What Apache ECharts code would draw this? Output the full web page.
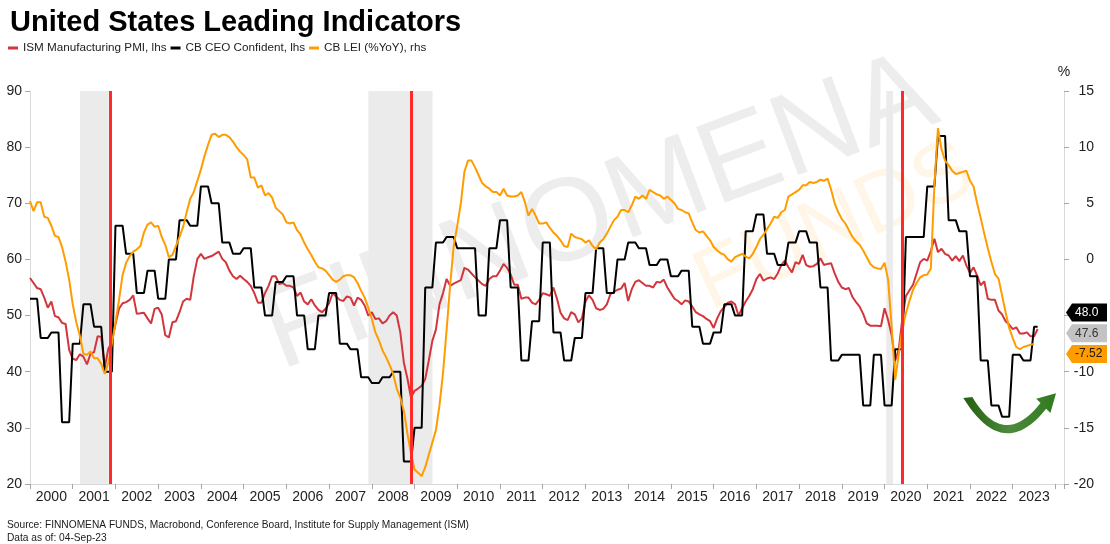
<!DOCTYPE html>
<html>
<head>
<meta charset="utf-8">
<script src="https://cdn.jsdelivr.net/npm/echarts@6/dist/echarts.min.js"></script>
<style>
html,body{margin:0;padding:0;background:#fff;}
#chart{width:1110px;height:544px;}
</style>
</head>
<body>
<div id="chart"></div>
<script>
// ---------------- DATA ----------------
const startYear = 2000;              // first month = Jan 2000, monthly data
const axisEndYear = 2024.2;          // x axis extends a little past 2024

// ISM Manufacturing PMI (monthly, Jan 2000 - Aug 2023), lhs
const ismPMI = [
  56.7, 55.8, 54.9, 54.7, 53.2, 51.4, 52.5, 49.9, 49.7, 48.7, 48.5, 43.9,
  42.3, 42.1, 43.1, 42.7, 41.3, 43.2, 43.5, 46.3, 46.2, 40.8, 44.1, 45.3,
  48.5, 51.2, 52.2, 52.4, 52.8, 53.6, 50.3, 50.4, 50.5, 49.5, 48.6, 51.2,
  51.4, 50.2, 46.5, 46.1, 48.8, 49.0, 50.6, 52.5, 53.0, 52.8, 57.0, 60.1,
  61.0, 60.1, 60.4, 60.6, 61.0, 61.4, 60.1, 59.5, 58.0, 57.0, 56.5, 57.1,
  56.5, 56.0, 55.3, 54.0, 52.3, 52.3, 54.0, 55.3, 57.0, 57.0, 55.6, 55.8,
  55.3, 55.3, 55.0, 53.5, 54.1, 52.5, 52.0, 52.9, 51.8, 51.0, 50.6, 51.2,
  52.2, 54.0, 53.4, 52.8, 52.6, 53.4, 53.2, 51.8, 53.2, 52.8, 51.8, 50.0,
  50.6, 49.4, 49.5, 48.6, 49.0, 50.0, 50.6, 50.0, 47.0, 41.6, 38.8, 35.4,
  36.6, 37.0, 37.5, 38.7, 42.0, 45.5, 47.5, 52.0, 54.0, 56.5, 55.3, 55.7,
  56.0, 56.3, 58.5, 58.2, 57.5, 56.8, 56.2, 55.6, 55.3, 56.5, 57.0, 57.0,
  58.0, 59.2, 58.5, 57.3, 55.5, 55.5, 53.0, 53.2, 53.2, 52.3, 52.0, 52.8,
  54.0, 53.8, 53.5, 55.0, 53.0, 50.5, 49.5, 49.2, 50.6, 50.2, 48.8, 49.5,
  52.5, 53.6, 52.8, 51.3, 51.0, 51.2, 52.0, 53.8, 54.2, 54.6, 54.8, 55.8,
  52.6, 54.7, 56.0, 56.3, 55.8, 55.3, 55.3, 55.0, 56.0, 55.9, 56.4, 55.0,
  54.0, 53.0, 52.6, 52.0, 52.7, 52.5, 51.6, 50.6, 50.2, 49.9, 49.4, 49.0,
  47.8, 49.5, 50.8, 51.5, 52.3, 52.5, 52.0, 50.0, 51.3, 52.5, 53.5, 54.7,
  56.5, 57.4, 56.2, 56.6, 56.8, 56.5, 57.5, 59.0, 59.8, 58.6, 57.7, 59.5,
  59.2, 60.8, 59.0, 58.7, 58.8, 59.2, 60.2, 59.0, 59.2, 59.3, 57.5, 56.0,
  55.0, 54.7, 54.9, 53.3, 52.4, 51.6, 50.3, 48.6, 48.2, 48.2, 48.2, 48.1,
  51.3, 49.2, 46.5, 42.0, 44.0, 49.5, 53.5, 54.5, 55.5, 57.5, 59.5, 60.1,
  59.8, 61.5, 63.7, 61.3, 61.9, 61.0, 60.7, 59.8, 60.6, 59.7, 60.7, 58.9,
  57.6, 58.6, 57.1, 55.4, 56.1, 53.0, 52.8, 52.8, 50.9, 50.2, 49.0, 48.4,
  47.6, 47.9, 46.8, 46.8, 47.0, 46.3, 46.3, 47.6
];

// CB CEO Confidence (quarterly, 2000Q1 - 2023Q3), lhs
const ceoConfidence = [
  53, 46, 47, 31,
  45, 52, 48, 40,
  66, 61, 54, 58,
  53, 60, 67, 66,
  73, 70, 63, 61,
  62, 55, 50, 56,
  57, 50, 44, 50,
  54, 45, 44, 39,
  38, 39, 40, 24,
  30, 55, 63, 64,
  62, 62, 50, 62,
  67, 55, 42, 49,
  63, 47, 42, 46,
  54, 62, 54, 60,
  63, 62, 59, 60,
  57, 58, 48, 45,
  47, 52, 50, 65,
  68, 61, 59, 63,
  65, 63, 55, 42,
  43, 43, 34, 43,
  34, 44, 64, 64,
  73, 82, 67, 65,
  57, 42, 34, 32,
  43, 42, 48
];

// CB LEI %YoY (monthly, Jan 2000 - Jul 2023), rhs
const leiYoY = [
  5.2, 4.3, 5.1, 5.1, 3.8, 3.7, 3.0, 2.1, 2.0, 1.1, -0.2, -1.8,
  -4.0, -5.6, -6.8, -8.4, -8.5, -8.2, -8.8, -8.8, -9.3, -10.2, -9.2, -7.5,
  -5.6, -3.6, -1.4, -0.3, 0.3, 0.7, 0.9, 1.2, 2.4, 3.1, 3.3, 2.9,
  3.0, 2.0, 1.3, 0.2, 0.4, 1.2, 2.0, 2.9, 4.2, 5.4, 6.0, 7.0,
  8.0, 9.2, 10.2, 11.1, 11.2, 10.9, 11.1, 11.1, 10.9, 10.5, 10.0, 9.6,
  9.3, 8.9, 7.3, 7.3, 6.4, 6.6, 5.7, 5.9, 5.5, 4.6, 4.3, 4.0,
  3.3, 3.2, 3.3, 2.6, 2.2, 1.5, 0.9, 0.4, -0.2, -0.7, -0.8, -1.0,
  -1.4, -1.8, -2.0, -1.8, -1.5, -1.4, -1.4, -1.6, -2.1, -2.8, -3.4, -4.3,
  -5.3, -6.5, -7.2, -8.1, -8.7, -9.4, -10.2, -11.5, -12.3, -13.5, -15.5, -17.3,
  -18.7, -19.0, -19.3, -18.5, -17.4, -16.3, -15.2, -13.0, -10.1, -6.3, -2.3, 1.2,
  3.0, 5.0, 7.8, 8.8, 8.8, 8.2, 7.5, 6.8, 6.5, 6.3, 6.0, 6.0,
  5.7, 6.3, 5.7, 5.6, 5.6, 5.7, 6.0, 5.1, 3.9, 4.5, 3.9, 3.2,
  3.2, 3.3, 2.8, 2.4, 2.1, 1.7, 1.2, 1.1, 2.3, 2.0, 1.9, 1.8,
  1.5, 1.7, 1.2, 0.9, 1.5, 1.8, 2.3, 2.9, 3.5, 3.8, 4.4, 4.4,
  4.2, 4.8, 5.6, 5.4, 5.7, 5.4, 6.2, 6.0, 5.8, 5.7, 5.4, 5.6,
  5.3, 5.0, 4.5, 4.4, 4.2, 4.1, 3.3, 2.6, 2.4, 2.5, 2.1, 1.7,
  1.1, 0.8, 0.55, 0.4, 0.0, -0.2, 0.2, 0.35, 0.5, 0.25, 0.1, 0.5,
  1.1, 1.8, 2.2, 2.7, 3.2, 3.8, 3.7, 4.2, 4.4, 5.6, 5.8, 6.0,
  6.2, 6.6, 6.6, 6.9, 6.8, 6.9, 7.1, 7.0, 7.2, 6.2, 5.0, 4.2,
  3.6, 3.2, 2.6, 2.0, 1.6, 1.3, 0.8, 0.2, -0.4, -0.7, -0.8, -0.85,
  -0.3, -1.8, -6.0, -10.7, -8.4, -6.2, -4.8, -3.7, -2.7, -2.1, -1.6, -1.4,
  -1.35, -0.8, 6.6, 11.7, 9.8, 8.8, 8.4, 7.9, 7.6, 7.7, 7.8, 7.9,
  7.0, 6.5, 5.0, 3.7, 2.3, 1.0, -0.2, -1.3, -1.7, -3.2, -4.7, -6.1,
  -7.0, -7.8, -8.0, -7.8, -7.7, -7.6, -7.52
];

// Recession periods (decimal years) and red marker lines
const recessions = [[2001.17, 2001.84], [2007.92, 2009.42], [2020.04, 2020.20]];
const markerLines = [2001.87, 2008.93, 2020.42];

const seriesNames = ['ISM Manufacturing PMI, lhs', 'CB CEO Confident, lhs', 'CB LEI (%YoY), rhs'];
const seriesColors = ['#d2363c', '#000000', '#ff9c00'];

// ---------------- BUILD ----------------
const monthX = i => startYear + i / 12;
const ismData = ismPMI.map((v, i) => [monthX(i), v]);
const lastMonth = ismPMI.length - 1;
const ceoData = [];
ceoConfidence.forEach((v, q) => {
  for (let k = 0; k < 3; k++) {
    const m = q * 3 + k;
    if (m <= lastMonth) ceoData.push([monthX(m), v]);
  }
});
const leiData = leiYoY.map((v, i) => [monthX(i), v]);

const FONT = 'Liberation Sans, Arial, Helvetica, sans-serif';
const chart = echarts.init(document.getElementById('chart'), null, {renderer: 'canvas'});

const axisLineStyle = {color: '#d9d9d9', width: 1};
const lineSeries = (name, data, color, yIdx, extra) => Object.assign({
  name: name, type: 'line', data: data, xAxisIndex: 0, yAxisIndex: yIdx,
  showSymbol: false, symbol: 'none', smooth: false,
  lineStyle: {color: color, width: 2}, itemStyle: {color: color},
  emphasis: {disabled: true}, silent: true
}, extra || {});

chart.setOption({
  animation: false,
  textStyle: {fontFamily: FONT},
  title: {
    text: 'United States Leading Indicators', left: 5, top: 3,
    textStyle: {fontSize: 29, fontWeight: 'bold', color: '#000', fontFamily: FONT}
  },
  legend: {
    data: seriesNames, left: 3, top: 37, icon: 'rect',
    itemWidth: 10, itemHeight: 3, itemGap: 4,
    textStyle: {fontSize: 11.7, color: '#222', fontFamily: FONT},
    selectedMode: false
  },
  grid: {left: 30, right: 46, top: 91, bottom: 60, containLabel: false},
  xAxis: [
    {
      type: 'value', min: startYear, max: axisEndYear, interval: 1, position: 'bottom',
      axisLine: {show: true, onZero: false, lineStyle: axisLineStyle},
      axisTick: {show: true, length: 5, lineStyle: {color: '#a6a6a6'}},
      axisLabel: {show: false}, splitLine: {show: false}
    },
    {
      type: 'value', min: startYear, max: axisEndYear, interval: 0.5, position: 'bottom',
      axisLine: {show: false, onZero: false}, axisTick: {show: false}, splitLine: {show: false},
      axisLabel: {
        show: true, fontSize: 14, color: '#222', margin: 6, fontFamily: FONT,
        formatter: v => (Math.abs(v - Math.floor(v) - 0.5) < 1e-6) ? String(Math.floor(v)) : ''
      }
    }
  ],
  yAxis: [
    {
      type: 'value', min: 20, max: 90, interval: 10, position: 'left',
      axisLine: {show: true, onZero: false, lineStyle: axisLineStyle},
      axisTick: {show: true, length: 5, lineStyle: {color: '#a6a6a6'}},
      axisLabel: {fontSize: 14, color: '#222', margin: 8, fontFamily: FONT},
      splitLine: {show: false}
    },
    {
      type: 'value', min: -20, max: 15, interval: 5, position: 'right',
      name: '%', nameLocation: 'end', nameGap: 12,
      nameTextStyle: {fontSize: 14, color: '#222', fontFamily: FONT, align: 'center'},
      axisLine: {show: true, onZero: false, lineStyle: axisLineStyle},
      axisTick: {show: true, length: 5, lineStyle: {color: '#a6a6a6'}},
      axisLabel: {fontSize: 14, color: '#222', margin: 30, align: 'right', fontFamily: FONT},
      splitLine: {show: false}
    }
  ],
  series: [
    lineSeries(seriesNames[0], ismData, seriesColors[0], 0, {
      markLine: {
        silent: true, symbol: ['none', 'none'], label: {show: false},
        lineStyle: {color: '#ff2a2a', width: 3, type: 'solid'},
        emphasis: {disabled: true},
        data: markerLines.map(x => ({xAxis: x}))
      }
    }),
    lineSeries(seriesNames[1], ceoData, seriesColors[1], 0, {
      markArea: {
        silent: true, itemStyle: {color: '#ebebeb'}, emphasis: {disabled: true},
        data: recessions.map(r => [{xAxis: r[0]}, {xAxis: r[1]}])
      }
    }),
    lineSeries(seriesNames[2], leiData, seriesColors[2], 1)
  ]
});

// ---------------- ANNOTATIONS ----------------
// sample a quadratic bezier into points (annotation geometry only)
function quad(p0, c, p1, n) {
  const pts = [];
  for (let k = 0; k <= n; k++) {
    const t = k / n, u = 1 - t;
    pts.push([u * u * p0[0] + 2 * u * t * c[0] + t * t * p1[0],
              u * u * p0[1] + 2 * u * t * c[1] + t * t * p1[1]]);
  }
  return pts;
}

function buildGraphics() {
  const g = [];
  // watermark
  g.push({
    type: 'text', id: 'wm1', z: 0, silent: true, x: 600, y: 215, rotation: 0.36,
    style: {text: 'FINNOMENA', fontSize: 118, fontFamily: FONT, fill: '#000', opacity: 0.07,
            align: 'center', verticalAlign: 'middle'}
  });
  g.push({
    type: 'text', id: 'wm2', z: 0, silent: true, x: 835, y: 228, rotation: 0.43,
    style: {text: 'FUNDS', fontSize: 86, fontFamily: FONT, fill: '#ff9900', opacity: 0.09,
            align: 'center', verticalAlign: 'middle'}
  });

  // end-value tags on the right axis
  const xEnd = chart.convertToPixel({xAxisIndex: 0}, axisEndYear);
  const tags = [
    {id: 'tCeo', value: ceoConfidence[ceoConfidence.length - 1], axis: 0, digits: 1, bg: '#000000', fg: '#ffffff'},
    {id: 'tIsm', value: ismPMI[ismPMI.length - 1], axis: 0, digits: 1, bg: '#c3c3c3', fg: '#333333'},
    {id: 'tLei', value: leiYoY[leiYoY.length - 1], axis: 1, digits: 2, bg: '#ff9c00', fg: '#1a1a1a'}
  ];
  tags.forEach(t => { t.y = chart.convertToPixel({yAxisIndex: t.axis}, t.value); t.orig = t.y; });
  tags.sort((a, b) => a.y - b.y);
  const gap = 20.7;
  for (let i = 1; i < tags.length; i++) {
    if (tags[i].y < tags[i - 1].y + gap) tags[i].y = tags[i - 1].y + gap;
  }
  const meanOrig = tags.reduce((s, t) => s + t.orig, 0) / tags.length;
  const meanNew = tags.reduce((s, t) => s + t.y, 0) / tags.length;
  tags.forEach(t => { t.y += meanOrig - meanNew; });
  const x0 = xEnd + 2, h = 9, w = 41;
  tags.forEach(t => {
    g.push({
      type: 'polygon', id: t.id + 'b', z: 20, silent: true,
      shape: {points: [[x0, t.y], [x0 + 6, t.y - h], [x0 + w, t.y - h], [x0 + w, t.y + h], [x0 + 6, t.y + h]]},
      style: {fill: t.bg}
    });
    g.push({
      type: 'text', id: t.id + 't', z: 21, silent: true, x: x0 + 9, y: t.y,
      style: {text: t.value.toFixed(t.digits), fontSize: 12, fontFamily: FONT, fill: t.fg,
              align: 'left', verticalAlign: 'middle'}
    });
  });

  // green turnaround arrow, anchored in data space
  const a = chart.convertToPixel({xAxisIndex: 0, yAxisIndex: 0}, [2022.85, 33.2]);
  const P = (dx, dy) => [a[0] + dx, a[1] + dy];
  const inner = quad(P(-34, -13), P(-3, 40), P(34.2, -6.8), 24);
  const outer = quad(P(39.8, -1.2), P(-3, 53), P(-43, -12), 24);
  const arrowPts = [].concat(inner, [P(29.9, -11.1), P(49.7, -16.7), P(44.1, 3.1)], outer);
  g.push({
    type: 'polygon', id: 'arrow', z: 15, silent: true,
    shape: {points: arrowPts},
    style: {
      fill: new echarts.graphic.LinearGradient(0, 0, 1, 0, [
        {offset: 0, color: '#25600f'}, {offset: 0.5, color: '#4d8a3c'}, {offset: 1, color: '#2f7a1f'}])
    }
  });

  // source notes
  g.push({
    type: 'text', id: 'src1', z: 5, silent: true, x: 7, y: 525,
    style: {text: 'Source: FINNOMENA FUNDS, Macrobond, Conference Board, Institute for Supply Management (ISM)',
            fontSize: 10.2, fontFamily: FONT, fill: '#1a1a1a', verticalAlign: 'middle'}
  });
  g.push({
    type: 'text', id: 'src2', z: 5, silent: true, x: 7, y: 538,
    style: {text: 'Data as of: 04-Sep-23', fontSize: 10.2, fontFamily: FONT, fill: '#1a1a1a', verticalAlign: 'middle'}
  });
  return g;
}
chart.setOption({graphic: buildGraphics()});
</script>
</body>
</html>
